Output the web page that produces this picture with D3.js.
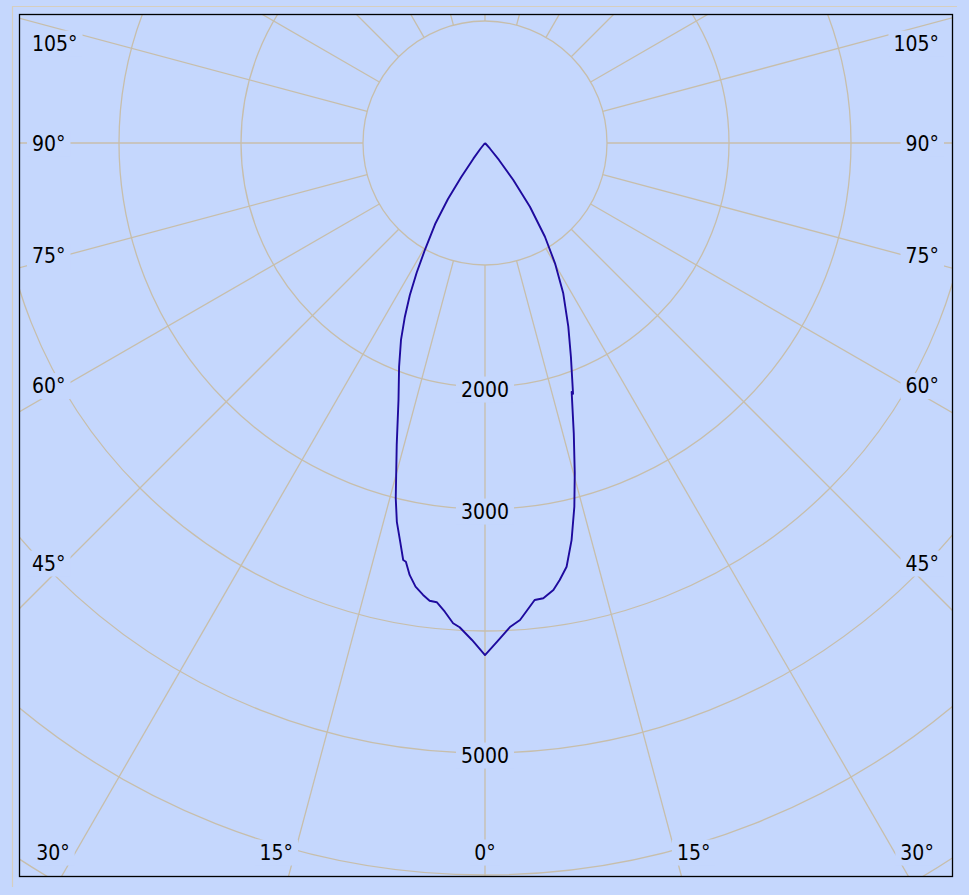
<!DOCTYPE html>
<html><head><meta charset="utf-8">
<script src="https://cdn.jsdelivr.net/npm/d3@7"></script>
<style>
html,body{margin:0;padding:0;background:#C5D7FD;}
svg{display:block;}
text{font-family:"DejaVu Sans Condensed","Liberation Sans",Arial,sans-serif;font-size:21px;fill:#000;}
</style></head><body>
<svg id="chart" width="969" height="895"></svg>
<script>
// ---- data ----
const ringValues = [1000, 2000, 3000, 4000, 5000, 6000, 7000, 8000];
const ringLabels = [2000, 3000, 5000];
const spokeAngles = d3.range(0, 360, 15);
const angleLabels = [0, 15, 30, 45, 60, 75, 90, 105];
// left half (C180) : gamma angle (deg from nadir) and intensity (cd)
const leftAngles = [0, 1.5, 3, 3.8, 4.9, 6, 6.9, 7.8, 8.9, 9.9, 10.7, 11.1, 12, 13.1, 14.1, 16.3, 18.6, 21, 23.1, 24.7, 26.3, 27.8, 29.4, 31.6, 33.5, 34.9, 36.6, 38.5, 40];
const leftValues = [4197, 4075, 3975, 3945, 3856, 3785, 3779, 3739, 3681, 3594, 3493, 3483, 3342, 3188, 3003, 2578, 2223, 1965, 1755, 1575, 1390, 1200, 1000, 780, 550, 340, 160, 60, 0];
// right half (C0)
const rightAngles = [0, 1.5, 3, 4.2, 6.2, 7.3, 8.7, 9.7, 10.9, 12.3, 13.8, 15.2, 17, 19.2, 19.35, 21.9, 24.4, 27.5, 30.2, 32.6, 35.2, 37.4, 39.5, 41.5, 43];
const rightValues = [4197, 4080, 3970, 3920, 3768, 3762, 3706, 3634, 3537, 3331, 3070, 2806, 2489, 2160, 2178, 1888, 1653, 1389, 1141, 912, 639, 382, 180, 60, 0];

// ---- layout ----
const W = 969, H = 895;
const bg = "#C5D7FD", gridColor = "#C7BEAB", curveColor = "#1E0A9E";
const frame = {x: 19, y: 14, w: 933, h: 862};
const cx = 485, cy = 143;
const r = d3.scaleLinear().domain([0, 1000]).range([0, 122]);
const rad = d => d * Math.PI / 180;
const toXY = (deg, rr) => [Math.sin(rad(deg)) * rr, Math.cos(rad(deg)) * rr];

const svg = d3.select("#chart");
svg.append("rect").attr("width", W).attr("height", H).attr("fill", bg);
svg.append("path").attr("d", "M12.5,887V6.5H957").attr("fill", "none").attr("stroke", "#D6CEBF").attr("stroke-width", 1.2);

svg.append("defs").append("clipPath").attr("id", "clip")
  .append("rect").attr("x", frame.x).attr("y", frame.y).attr("width", frame.w).attr("height", frame.h);

const plot = svg.append("g").attr("clip-path", "url(#clip)");
const g = plot.append("g").attr("transform", `translate(${cx},${cy})`);

g.selectAll("circle.ring").data(ringValues).join("circle").attr("class", "ring")
  .attr("r", d => r(d)).attr("fill", "none").attr("stroke", gridColor).attr("stroke-width", 1.3);

g.selectAll("line.spoke").data(spokeAngles).join("line").attr("class", "spoke")
  .attr("x1", d => toXY(d, r(1000))[0]).attr("y1", d => toXY(d, r(1000))[1])
  .attr("x2", d => toXY(d, r(9000))[0]).attr("y2", d => toXY(d, r(9000))[1])
  .attr("stroke", gridColor).attr("stroke-width", 1.3);

// ---- labels with background boxes ----
const lab = svg.append("g");
function addLabel(txt, x, y, anchor) {
  const gg = lab.append("g");
  const t = gg.append("text").attr("x", x).attr("y", y).attr("dy", "0.36em")
    .attr("text-anchor", anchor).text(txt);
  const b = t.node().getBBox();
  gg.insert("rect", "text").attr("x", b.x - 5).attr("y", b.y - 1).attr("width", b.width + 10)
    .attr("height", b.height + 2).attr("fill", bg);
}
ringLabels.forEach(v => addLabel(String(v), cx, cy + r(v) + 2, "middle"));

const sideInset = 46, bottomY = frame.y + frame.h - 24, bottomCross = frame.y + frame.h - 11;
angleLabels.forEach(a => {
  const txt = a + "°";
  if (a === 0) { addLabel(txt, cx, bottomY, "middle"); return; }
  const sideY = cy + (cx - (frame.x + sideInset)) / Math.tan(rad(a));
  if (sideY > frame.y + frame.h - 40) {
    const dx = (bottomCross - cy) * Math.tan(rad(a));
    addLabel(txt, cx - dx + 1.5, bottomY, "end");
    addLabel(txt, cx + dx - 1.5, bottomY, "start");
  } else {
    const y = Math.max(sideY, frame.y + 29);
    addLabel(txt, frame.x + 13, y, "start");
    addLabel(txt, frame.x + frame.w - 13, y, "end");
  }
});

// ---- intensity curve ----
const leftPts = leftAngles.map((a, i) => ({ang: Math.PI + rad(a), v: leftValues[i]})).reverse();
const rightPts = rightAngles.map((a, i) => ({ang: Math.PI - rad(a), v: rightValues[i]})).slice(1);
const line = d3.lineRadial().angle(d => d.ang).radius(d => r(d.v));
svg.append("path").attr("transform", `translate(${cx},${cy})`)
  .attr("d", line(leftPts.concat(rightPts)))
  .attr("fill", "none").attr("stroke", curveColor).attr("stroke-width", 1.9).attr("stroke-linejoin", "round");

// ---- frame ----
svg.append("rect").attr("x", frame.x + 0.5).attr("y", frame.y + 0.5).attr("width", frame.w).attr("height", frame.h)
  .attr("fill", "none").attr("stroke", "#000").attr("stroke-width", 1.3);
</script>
</body></html>
